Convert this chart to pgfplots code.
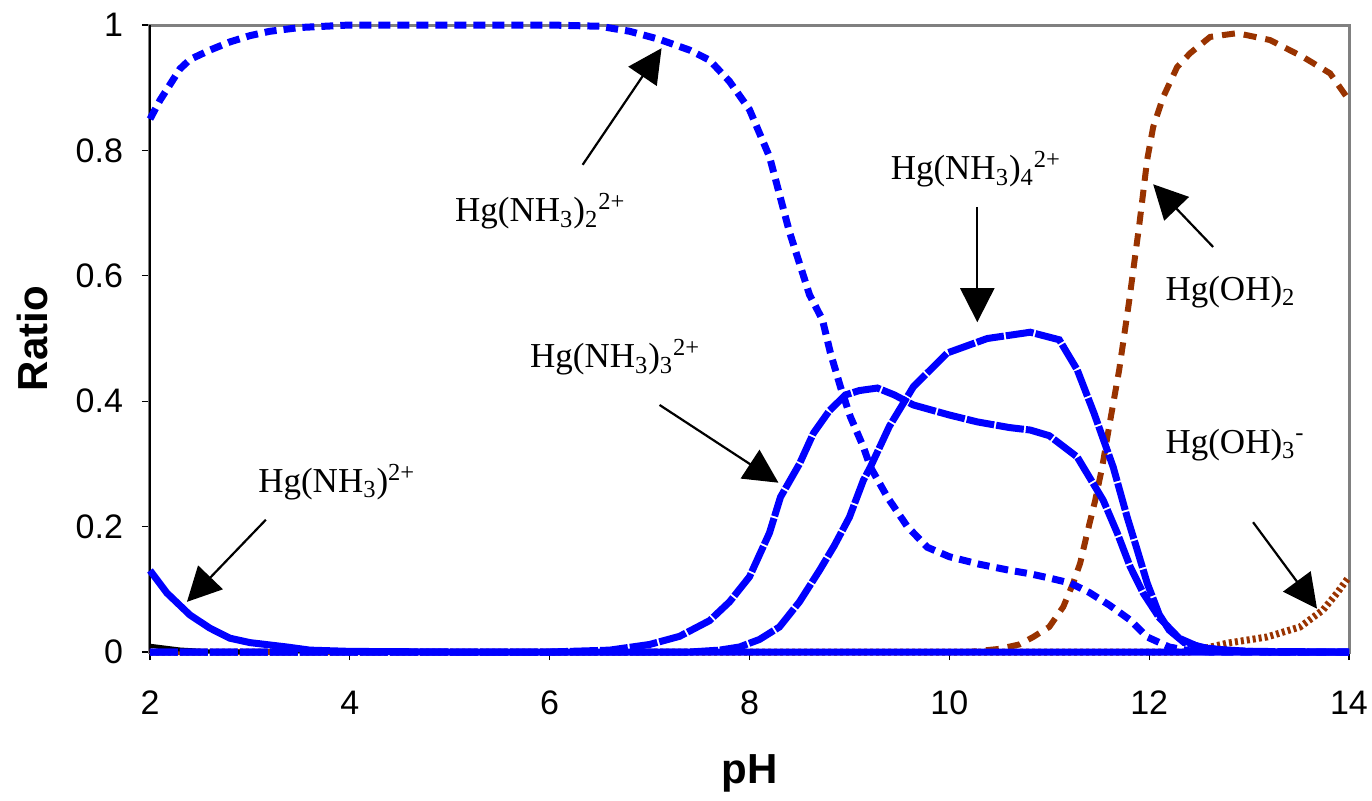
\documentclass[border=0pt]{standalone}
\usepackage{fontspec}
\setmainfont{Liberation Sans}
\newfontfamily\tnr{Liberation Serif}
\usepackage{pgfplots}
\pgfplotsset{compat=1.18}
\usetikzlibrary{arrows.meta}
\definecolor{hgblue}{RGB}{0,0,255}
\definecolor{hgbrown}{RGB}{153,51,0}
\tikzset{callout/.style={-{Triangle[width=17pt,length=17pt]}, line width=1.1pt, black},
         species/.style={anchor=base west, inner sep=0pt, font=\fontsize{17.5}{20}\tnr}}
\begin{document}
\begin{tikzpicture}
\begin{axis}[
  scale only axis, width=599.5pt, height=313.5pt,
  xmin=2, xmax=14, ymin=0, ymax=1,
  xtick={2,4,...,14}, ytick={0,0.2,0.4,0.6,0.8,1},
  axis line style={draw=gray, line width=1.5pt},
  tick align=outside, xtick pos=bottom, ytick pos=left,
  major tick length=4pt,
  tick style={black, line width=0.6pt},
  ticklabel style={font=\fontsize{17}{20}\selectfont},
  /pgf/number format/assume math mode=true,
  xticklabel style={yshift=-12pt},
  yticklabel style={xshift=-6pt},
  xlabel={pH}, ylabel={Ratio},
  label style={font=\fontsize{21}{24}\selectfont\bfseries},
  xlabel style={at={(axis description cs:0.5,-0.193)}, anchor=center},
  ylabel style={at={(axis description cs:-0.0984,0.5)}, anchor=center},
  clip=false,
]
\draw[black, line width=1pt] (rel axis cs:0,1) -- (rel axis cs:0,0) -- (rel axis cs:1,0);

% Hg(OH)2
\addplot[hgbrown, line width=3pt, dash pattern=on 6.5pt off 4.5pt] coordinates {
  (2,0) (10.2,0) (10.5,0.005) (10.7,0.012) (10.84,0.024) (11.0,0.04) (11.14,0.072)
  (11.24,0.11) (11.31,0.142) (11.38,0.19) (11.46,0.242) (11.53,0.295) (11.6,0.36)
  (11.7,0.45) (11.8,0.56) (11.9,0.68) (11.98,0.785) (12.04,0.837) (12.14,0.885)
  (12.28,0.933) (12.41,0.955) (12.61,0.981) (12.88,0.987) (13.21,0.976) (13.54,0.949)
  (13.81,0.923) (14,0.88)
};
% Hg(OH)3-
\addplot[hgbrown, line width=3.5pt, dash pattern=on 1.5pt off 1.5pt] coordinates {
  (2,0) (12.4,0) (12.78,0.014) (13.18,0.024) (13.51,0.04) (13.74,0.067) (13.88,0.094) (14,0.12)
};
% black trace near zero
\addplot[black, line width=2pt] coordinates {(2,0.01) (2.3,0.004) (2.6,0.001) (3,0)};

% Hg(NH3)2+
\addplot[hgblue, line width=3.5pt] coordinates {
  (2,0.13) (2.17,0.094) (2.4,0.059) (2.6,0.038) (2.8,0.022) (3.0,0.015) (3.37,0.008)
  (3.6,0.003) (4,0.001) (5,0) (14,0)
};
% Hg(NH3)3 2+
\addplot[hgblue, line width=3.5pt, dash pattern=on 14pt off 1pt] coordinates {
  (2,0) (6,0) (6.6,0.003) (7.0,0.012) (7.3,0.025) (7.6,0.05) (7.8,0.08) (8.0,0.12)
  (8.2,0.19) (8.31,0.247) (8.5,0.3) (8.64,0.349) (8.8,0.385) (8.96,0.41) (9.1,0.417)
  (9.28,0.421) (9.45,0.41) (9.64,0.394) (10.0,0.378) (10.28,0.367) (10.6,0.358)
  (10.81,0.354) (11.0,0.345) (11.28,0.311) (11.54,0.242) (11.68,0.19) (11.81,0.136)
  (11.94,0.094) (12.1,0.055) (12.3,0.022) (12.5,0.008) (12.8,0.002) (13.2,0) (14,0)
};
% Hg(NH3)4 2+
\addplot[hgblue, line width=3.5pt, dash pattern=on 14pt off 1pt] coordinates {
  (2,0) (7.4,0) (7.7,0.003) (7.9,0.008) (8.1,0.02) (8.3,0.04) (8.5,0.08) (8.7,0.13)
  (8.85,0.17) (9.0,0.215) (9.14,0.274) (9.21,0.295) (9.4,0.36) (9.64,0.423)
  (9.98,0.477) (10.38,0.5) (10.81,0.51) (11.1,0.498) (11.28,0.45) (11.45,0.38)
  (11.64,0.295) (11.78,0.215) (11.88,0.163) (11.98,0.11) (12.1,0.06) (12.2,0.035)
  (12.35,0.015) (12.6,0.005) (13,0.001) (14,0)
};
% Hg(NH3)2 2+
\addplot[hgblue, line width=3.5pt, dash pattern=on 6pt off 3.5pt] coordinates {
  (2,0.85) (2.1,0.88) (2.2,0.905) (2.3,0.93) (2.4,0.945) (2.6,0.96) (2.8,0.973)
  (3.0,0.983) (3.2,0.99) (3.5,0.996) (4,1) (5,1) (6,1) (6.5,0.998) (6.8,0.99)
  (7.1,0.977) (7.4,0.96) (7.6,0.944) (7.8,0.91) (8.0,0.865) (8.2,0.79) (8.4,0.67)
  (8.6,0.57) (8.73,0.53) (8.81,0.477) (8.91,0.423) (9.01,0.375) (9.14,0.327)
  (9.21,0.295) (9.38,0.247) (9.58,0.2) (9.78,0.167) (10.0,0.152) (10.3,0.14)
  (10.58,0.131) (10.8,0.125) (11.0,0.118) (11.21,0.11) (11.4,0.095) (11.6,0.075)
  (11.81,0.051) (11.98,0.024) (12.2,0.008) (12.4,0.002) (12.6,0) (14,0)
};

% callouts
\draw[callout] (axis cs:6.33,0.777) -- (axis cs:7.12,0.963);
\draw[callout] (axis cs:10.28,0.710) -- (axis cs:10.28,0.526);
\draw[callout] (axis cs:12.64,0.646) -- (axis cs:12.04,0.746);
\draw[callout] (axis cs:7.10,0.394) -- (axis cs:8.29,0.270);
\draw[callout] (axis cs:3.16,0.211) -- (axis cs:2.37,0.080);
\draw[callout] (axis cs:13.04,0.207) -- (axis cs:13.68,0.069);

\node[species] at (axis cs:5.05,0.686) {Hg(NH\textsubscript{3})\textsubscript{2}\textsuperscript{2+}};
\node[species] at (axis cs:9.41,0.753) {Hg(NH\textsubscript{3})\textsubscript{4}\textsuperscript{2+}};
\node[species] at (axis cs:12.16,0.561) {Hg(OH)\textsubscript{2}};
\node[species] at (axis cs:12.16,0.317) {Hg(OH)\textsubscript{3}\textsuperscript{-}};
\node[species] at (axis cs:5.80,0.453) {Hg(NH\textsubscript{3})\textsubscript{3}\textsuperscript{2+}};
\node[species] at (axis cs:3.08,0.254) {Hg(NH\textsubscript{3})\textsuperscript{2+}};
\end{axis}
\pgfresetboundingbox
\path[use as bounding box] (-75pt,-74pt) rectangle (611pt,326pt);
\end{tikzpicture}
\end{document}
